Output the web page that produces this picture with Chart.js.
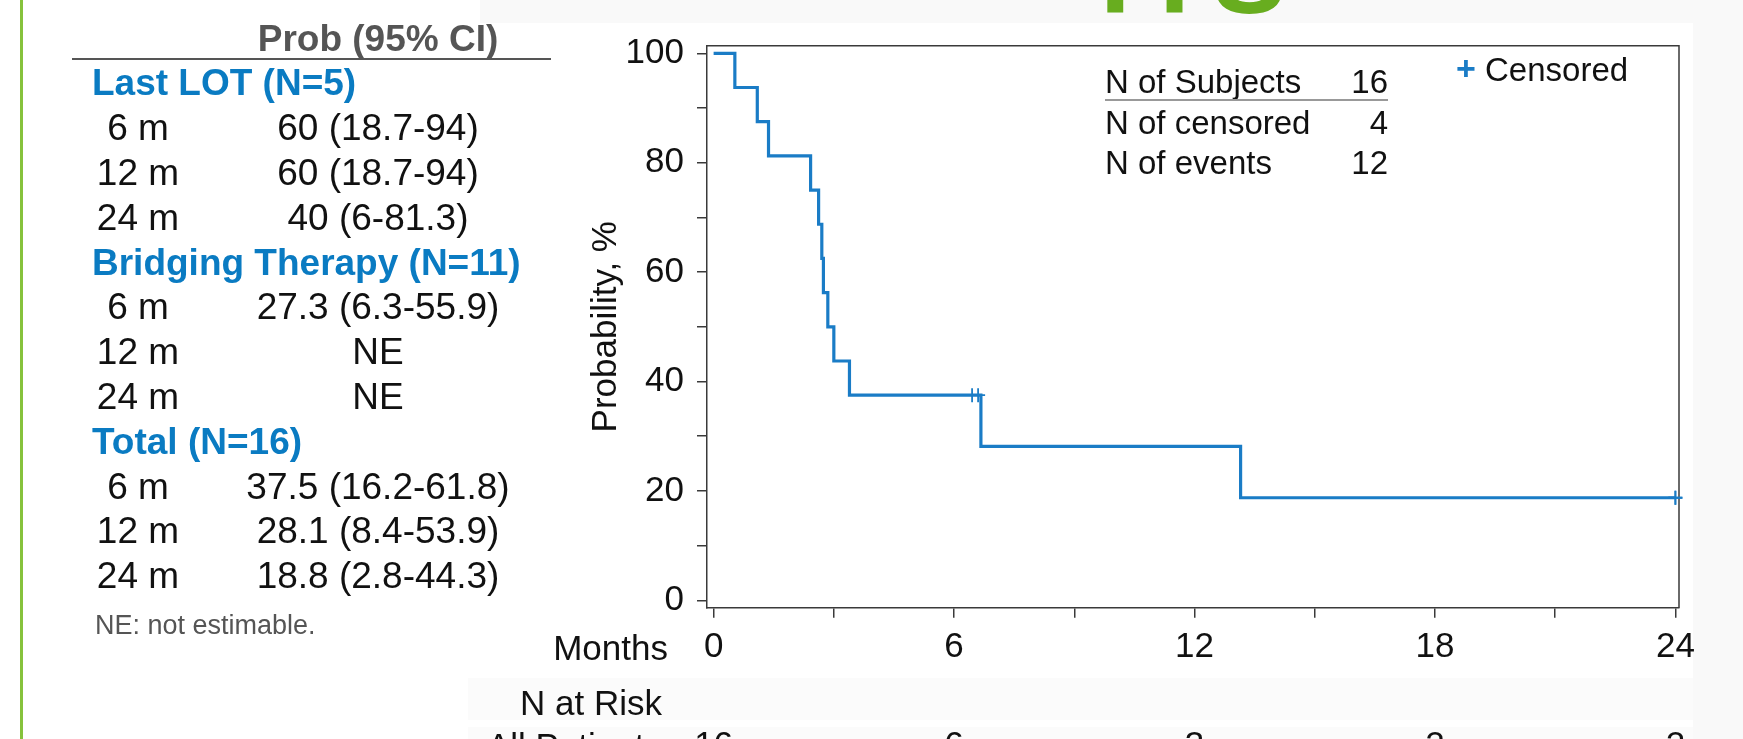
<!DOCTYPE html>
<html>
<head>
<meta charset="utf-8">
<script src="https://cdn.jsdelivr.net/npm/chart.js@4.4.0/dist/chart.umd.min.js"></script>
<style>
  html, body { margin: 0; padding: 0; background: #fff; }
  body { width: 1743px; height: 739px; position: relative; overflow: hidden;
         font-family: "Liberation Sans", Arial, sans-serif; color: #111; }
  .t { position: absolute; white-space: nowrap; height: 44px; line-height: 44px; }
  #chart { position: absolute; left: 0; top: 0; }
</style>
</head>
<body>
<div style="position:absolute;left:480px;top:0;width:1263px;height:23px;background:#f9f9f9"></div>
<div style="position:absolute;left:1693px;top:0;width:50px;height:739px;background:#f9f9f9"></div>
<div style="position:absolute;left:20px;top:0;width:3px;height:739px;background:#86c23c"></div>
<div style="position:absolute;left:468px;top:678px;width:1225px;height:42px;background:#fbfbfb"></div>
<div style="position:absolute;left:468px;top:727px;width:1225px;height:12px;background:#fbfbfb"></div>
<canvas id="chart" width="1743" height="739"></canvas>
<div id="notes"></div>
<script>
// KM curve (months, survival %)
const months   = [0, 0.53, 1.09, 1.37, 2.42, 2.62, 2.70, 2.74, 2.85, 3.00, 3.39, 6.67, 13.15, 24];
const survival = [100, 93.75, 87.5, 81.25, 75, 68.75, 62.5, 56.25, 50, 43.75, 37.5, 28.13, 18.75, 18.75];
const censorMonths   = [6.45, 6.6, 24, 24];
const censorSurvival = [37.5, 37.5, 18.75, 18.75];

const xTicks  = [0, 3, 6, 9, 12, 15, 18, 21, 24];
const xLabels = [0, 6, 12, 18, 24];
const yTicks  = [0, 10, 20, 30, 40, 50, 60, 70, 80, 90, 100];
const yLabels = [0, 20, 40, 60, 80, 100];

const riskMonths = [0, 6, 12, 18, 24];
const atRisk     = [16, 6, 3, 2, 2];

const summaryLabels = ['N of Subjects', 'N of censored', 'N of events'];
const summaryValues = [16, 4, 12];

const groups    = ['Last LOT (N=5)', 'Bridging Therapy (N=11)', 'Total (N=16)'];
const landmarks = ['6 m', '12 m', '24 m'];
const probs = [
  ['60 (18.7-94)', '60 (18.7-94)', '40 (6-81.3)'],
  ['27.3 (6.3-55.9)', 'NE', 'NE'],
  ['37.5 (16.2-61.8)', '28.1 (8.4-53.9)', '18.8 (2.8-44.3)']
];

const blue = '#1a7cc6';
const textBlue = '#0a7bc2';
const axisCol = '#3a3a3a';
const FONT = '"Liberation Sans", Arial, sans-serif';

// ---- html text ----
const notes = document.getElementById('notes');
function addText(txt, x, cy, css, anchor) {
  const d = document.createElement('div');
  d.className = 't';
  d.textContent = txt;
  d.style.top = (cy - 22) + 'px';
  if (anchor === 'center') { d.style.left = (x - 300) + 'px'; d.style.width = '600px'; d.style.textAlign = 'center'; }
  else if (anchor === 'right') { d.style.right = (1743 - x) + 'px'; d.style.textAlign = 'right'; }
  else d.style.left = x + 'px';
  d.style.cssText += css;
  notes.appendChild(d);
  return d;
}

// big green title, only its lower part is visible
addText('PFS', 1100, 0, 'font-size:110px;font-weight:bold;color:#68ad1f;letter-spacing:-14px;height:110px;line-height:110px;top:-80px');

// left table
addText('Prob (95% CI)', 378, 38.5, 'font-size:37px;font-weight:bold;color:#555', 'center');
const rule = document.createElement('div');
rule.style.cssText = 'position:absolute;left:72px;top:58px;width:479px;height:2px;background:#555';
notes.appendChild(rule);
groups.forEach((g, gi) => {
  const hy = 83.3 + gi * 179.2;
  addText(g, 92, hy, 'font-size:37px;font-weight:bold;color:' + textBlue);
  landmarks.forEach((lm, li) => {
    const ry = hy + 44.8 * (li + 1);
    addText(lm, 138, ry, 'font-size:37px', 'center');
    addText(probs[gi][li], 378, ry, 'font-size:37px', 'center');
  });
});
addText('NE: not estimable.', 95, 625, 'font-size:27px;color:#555');

// summary box + legend
summaryLabels.forEach((s, i) => {
  const cy = 82 + i * 40.5;
  addText(s, 1105, cy, 'font-size:33px');
  addText(String(summaryValues[i]), 1388, cy, 'font-size:33px', 'right');
});
const ul = document.createElement('div');
ul.style.cssText = 'position:absolute;left:1105px;top:99px;width:283px;height:2px;background:#999';
notes.appendChild(ul);
addText('+', 1466, 68, 'font-size:34px;font-weight:bold;color:' + blue, 'center');
addText('Censored', 1485, 70, 'font-size:33px');

addText('Months', 668, 648, 'font-size:35px', 'right');
addText('N at Risk', 662, 703, 'font-size:35px', 'right');
addText('All Patients', 662, 746, 'font-size:35px', 'right');

// ---- chart ----
const framePlugin = {
  id: 'frame',
  beforeDatasetsDraw(chart) {
    const a = chart.chartArea, c = chart.ctx;
    c.save();
    c.strokeStyle = axisCol;
    c.lineWidth = 1.5;
    c.beginPath();
    c.moveTo(a.left, a.top);
    c.lineTo(a.right, a.top);
    c.lineTo(a.right, a.bottom);
    c.stroke();
    c.restore();
  }
};
const riskPlugin = {
  id: 'atrisk',
  afterDraw(chart) {
    const c = chart.ctx, xs = chart.scales.x;
    c.save();
    c.font = '35px ' + FONT;
    c.fillStyle = '#111';
    c.textAlign = 'center';
    c.textBaseline = 'middle';
    riskMonths.forEach((m, i) => c.fillText(String(atRisk[i]), xs.getPixelForValue(m), 746));
    c.restore();
  }
};

new Chart(document.getElementById('chart'), {
  type: 'line',
  data: {
    datasets: [
      {
        label: 'All Patients',
        data: months.map((m, i) => ({ x: m, y: survival[i] })),
        stepped: true,
        borderColor: blue,
        borderWidth: 3.2,
        pointRadius: 0,
        fill: false
      },
      {
        label: 'Censored',
        data: censorMonths.map((m, i) => ({ x: m, y: censorSurvival[i] })),
        showLine: false,
        pointStyle: 'cross',
        pointRadius: 7,
        pointHoverRadius: 7,
        borderColor: blue,
        borderWidth: 1.8,
        clip: false
      }
    ]
  },
  options: {
    responsive: false,
    animation: false,
    layout: { padding: { left: 560, top: 45.7, right: 64, bottom: 31.3 } },
    plugins: { legend: { display: false }, tooltip: { enabled: false } },
    scales: {
      x: {
        type: 'linear',
        min: -0.165,
        max: 24.09,
        afterBuildTicks: s => { s.ticks = xTicks.map(v => ({ value: v })); },
        afterFit: s => { s.height = 100; },
        ticks: {
          autoSkip: false, maxRotation: 0, padding: 9, color: '#111',
          font: { size: 35, family: FONT },
          callback: v => xLabels.includes(v) ? String(v) : ''
        },
        grid: { drawOnChartArea: false, tickLength: 10, color: axisCol, lineWidth: 1.5 },
        border: { color: axisCol, width: 1.5 }
      },
      y: {
        min: -1.35,
        max: 101.39,
        afterBuildTicks: s => { s.ticks = yTicks.map(v => ({ value: v })); },
        afterFit: s => { s.width = 147; },
        ticks: {
          autoSkip: false, padding: 13, color: '#111',
          font: { size: 35, family: FONT },
          callback: v => yLabels.includes(v) ? String(v) : ''
        },
        grid: { drawOnChartArea: false, tickLength: 10, color: axisCol, lineWidth: 1.5 },
        border: { color: axisCol, width: 1.5 },
        title: {
          display: true, text: 'Probability, %', color: '#111',
          font: { size: 35, family: FONT }, padding: { top: 25, bottom: 0 }
        }
      }
    }
  },
  plugins: [framePlugin, riskPlugin]
});
</script>
</body>
</html>
